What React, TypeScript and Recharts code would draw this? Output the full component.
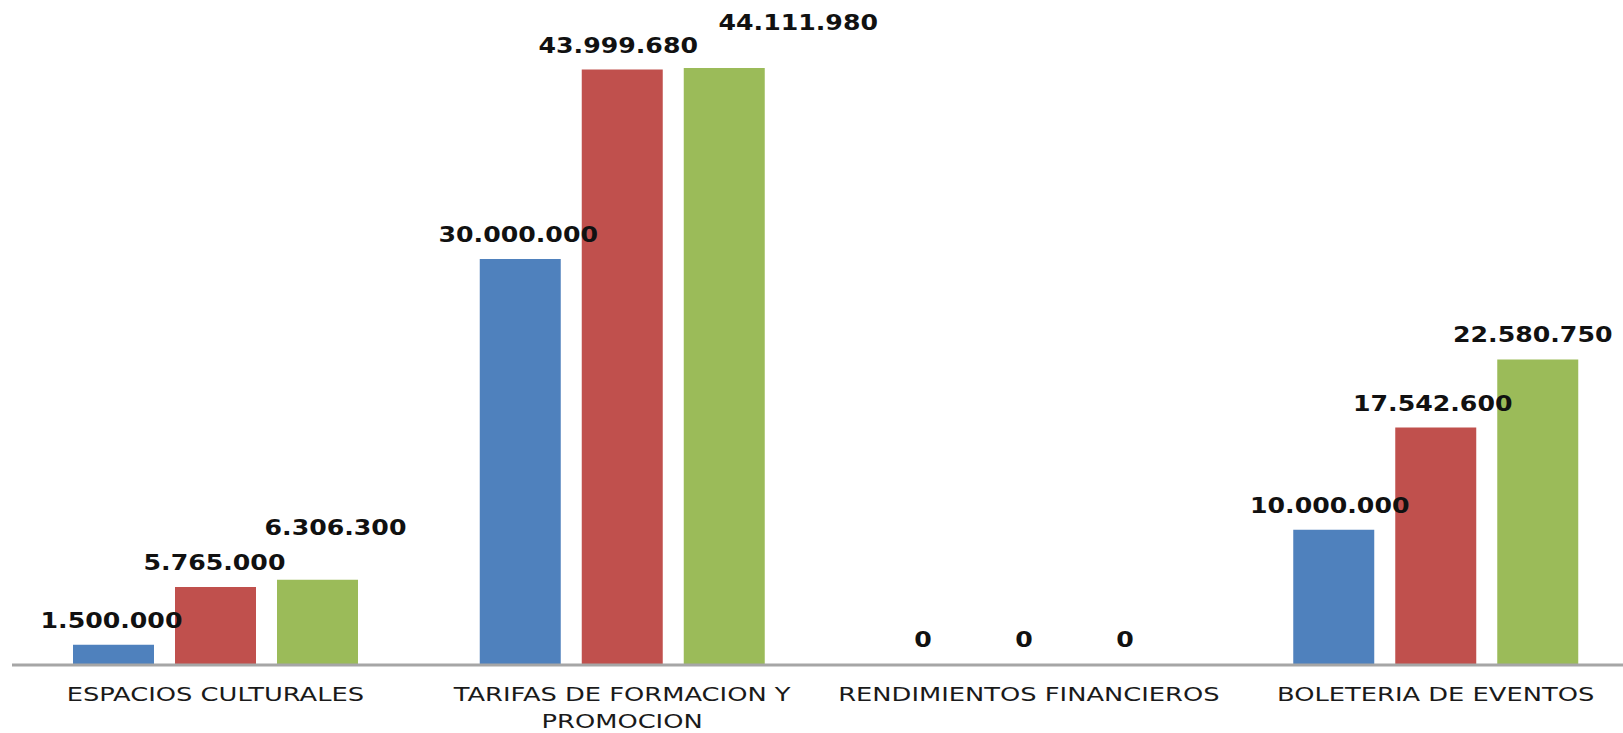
import { BarChart, Bar, XAxis, YAxis, LabelList } from 'recharts';

const categories = [
  'ESPACIOS CULTURALES',
  'TARIFAS DE FORMACION Y\nPROMOCION',
  'RENDIMIENTOS FINANCIEROS',
  'BOLETERIA DE EVENTOS',
];
const serieA = [1500000, 30000000, 0, 10000000];
const serieB = [5765000, 43999680, 0, 17542600];
const serieC = [6306300, 44111980, 0, 22580750];

const COLORS = ['#4F81BD', '#C0504D', '#9BBB59'];

// label nudges per category, [dx, dy] — the source had a couple of labels dragged by hand
const SHIFT_A = [[-2, 0], [-2, 0], [-4, 0], [-4, 0]];
const SHIFT_B = [[-1, 0], [-4, 0], [-5, 0], [-3, 0]];
const SHIFT_C = [[18, -28], [74, -21], [-6, 0], [-5, 0]];

const FONT = '"DejaVu Sans", Verdana, sans-serif';

const data = categories.map((name, i) => ({
  name,
  a: serieA[i],
  b: serieB[i],
  c: serieC[i],
}));

function formatDots(v: number) {
  return String(v).replace(/\B(?=(\d{3})+(?!\d))/g, '.');
}

function makeLabel(shifts: number[][]) {
  return (props: any) => {
    const { x, y, width, value, index } = props;
    const [dx, dy] = shifts[index] || [0, 0];
    const cx = Number(x) + Number(width) / 2 + dx;
    const by = Number(y) - 17 + dy;
    return (
      <text
        transform={`translate(${cx},${by}) scale(1.2,1)`}
        x={0}
        y={0}
        textAnchor="middle"
        fontFamily={FONT}
        fontWeight="bold"
        fontSize={21}
        fill="#111"
      >
        {formatDots(Number(value))}
      </text>
    );
  };
}

function CategoryTick(props: any) {
  const { x, y, payload } = props;
  const lines = String(payload.value).split('\n');
  return (
    <g>
      {lines.map((line, i) => (
        <text
          key={i}
          transform={`translate(${x},${y + 36 + i * 27}) scale(1.32,1)`}
          x={0}
          y={0}
          textAnchor="middle"
          fontFamily={FONT}
          fontSize={19.5}
          fill="#1a1a1a"
        >
          {line}
        </text>
      ))}
    </g>
  );
}

export default function App() {
  return (
    <div
      style={{
        position: 'absolute',
        left: 0,
        top: 0,
        width: 1623,
        height: 733,
        overflow: 'hidden',
        background: '#fff',
      }}
    >
      <BarChart
        width={1655}
        height={733}
        data={data}
        margin={{ top: 10, right: 16, bottom: 0, left: 12 }}
        barCategoryGap={61}
        barGap={21}
      >
        <XAxis
          dataKey="name"
          height={68}
          tickSize={0}
          tickMargin={0}
          tickLine={false}
          axisLine={{ stroke: '#a6a6a6', strokeWidth: 3 }}
          tick={<CategoryTick />}
          interval={0}
        />
        <YAxis hide domain={[0, 48400000]} />
        <Bar dataKey="a" fill={COLORS[0]} minPointSize={1} isAnimationActive={false}>
          <LabelList dataKey="a" content={makeLabel(SHIFT_A)} />
        </Bar>
        <Bar dataKey="b" fill={COLORS[1]} minPointSize={1} isAnimationActive={false}>
          <LabelList dataKey="b" content={makeLabel(SHIFT_B)} />
        </Bar>
        <Bar dataKey="c" fill={COLORS[2]} minPointSize={1} isAnimationActive={false}>
          <LabelList dataKey="c" content={makeLabel(SHIFT_C)} />
        </Bar>
      </BarChart>
    </div>
  );
}
